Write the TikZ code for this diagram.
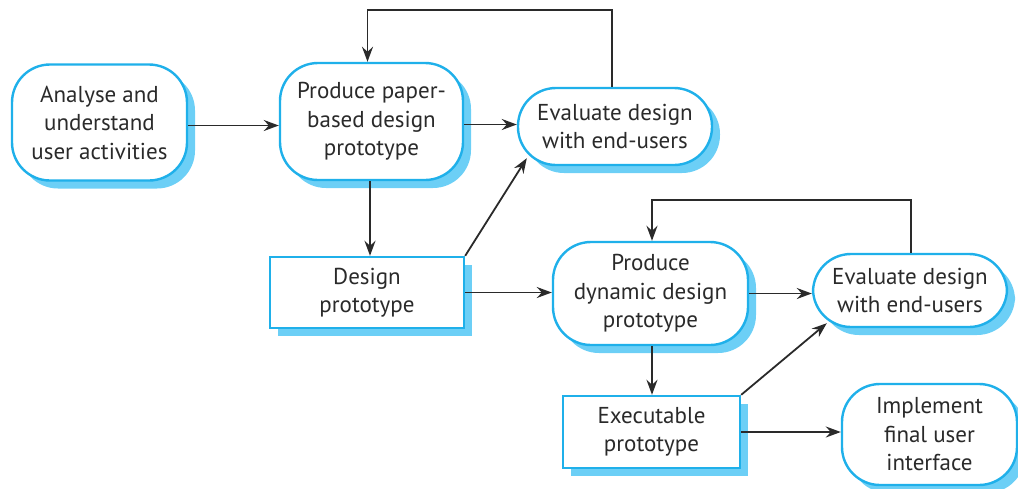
\documentclass[tikz,border=0pt]{standalone}
\usepackage{fontspec}
\setmainfont{PT Sans}
\usetikzlibrary{arrows.meta,shadows}
\definecolor{edgeblue}{HTML}{1FB0EA}
\definecolor{shadeblue}{HTML}{6CCFF6}
\definecolor{ink}{HTML}{2A2A2A}
\tikzset{
  boxbase/.style={draw=edgeblue, line width=2.4pt, fill=white, align=center,
    text=ink, font=\fontsize{23}{28.5}\selectfont, inner sep=0pt,
    drop shadow={shadow xshift=8pt, shadow yshift=-8pt, fill=shadeblue, opacity=1}},
  activity/.style={boxbase, rounded corners=38pt},
  artefact/.style={boxbase},
  arr/.style={draw=ink, line width=1.8pt,
    -{Stealth[length=15pt,width=11pt,inset=5pt]}}
}
\begin{document}
\begin{tikzpicture}[x=1pt,y=-1pt]
\useasboundingbox (0,0) rectangle (1018,488);

\node[activity, minimum width=175pt, minimum height=116pt] (A) at (99.5,122.5)
  {Analyse and\\understand\\user activities};
\node[activity, minimum width=183pt, minimum height=117pt] (P) at (371.5,121.5)
  {Produce paper-\\based design\\prototype};
\node[activity, minimum width=194pt, minimum height=77pt] (E1) at (615,126.5)
  {Evaluate design\\with end-users};
\node[artefact, minimum width=194pt, minimum height=71pt] (D) at (367,292.5)
  {Design\\prototype};
\node[activity, minimum width=195pt, minimum height=103pt] (PD) at (650.5,293.5)
  {Produce\\dynamic design\\prototype};
\node[activity, minimum width=194pt, minimum height=73pt] (E2) at (910,290.5)
  {Evaluate design\\with end-users};
\node[artefact, minimum width=177pt, minimum height=72pt] (X) at (651.5,432)
  {Executable\\prototype};
\node[activity, minimum width=175pt, minimum height=101pt] (I) at (929.5,434.5)
  {Implement\\final user\\interface};

% paper prototyping loop
\coordinate (t1) at (612,10);
\draw[arr] (E1.north -| t1) -- (t1) -| ([xshift=-4pt]P.north);
\draw[arr] ([yshift=-3pt]A.east) -- ([yshift=-3pt]A.east -| P.west);
\draw[arr] ([yshift=-3pt]P.east) -- ([yshift=-3pt]P.east -| E1.west);
\draw[arr] ([xshift=-1.5pt]P.south) -- ([xshift=-1.5pt]P.south |- D.north);
\draw[arr] (D.north east) -- ([xshift=10pt,yshift=8pt]E1.south west);

% dynamic prototyping loop
\draw[arr] (D.east) -- (D.east -| PD.west);
\coordinate (t2) at (911,200);
\draw[arr] (E2.north -| t2) -- (t2) -| ([xshift=1.5pt]PD.north);
\draw[arr] (PD.east) -- (PD.east -| E2.west);
\draw[arr] ([xshift=1.5pt]PD.south) -- ([xshift=1.5pt]PD.south |- X.north);
\draw[arr] (X.north east) -- ([xshift=15pt,yshift=5pt]E2.south west);
\draw[arr] (X.east) -- (X.east -| I.west);
\end{tikzpicture}
\end{document}
